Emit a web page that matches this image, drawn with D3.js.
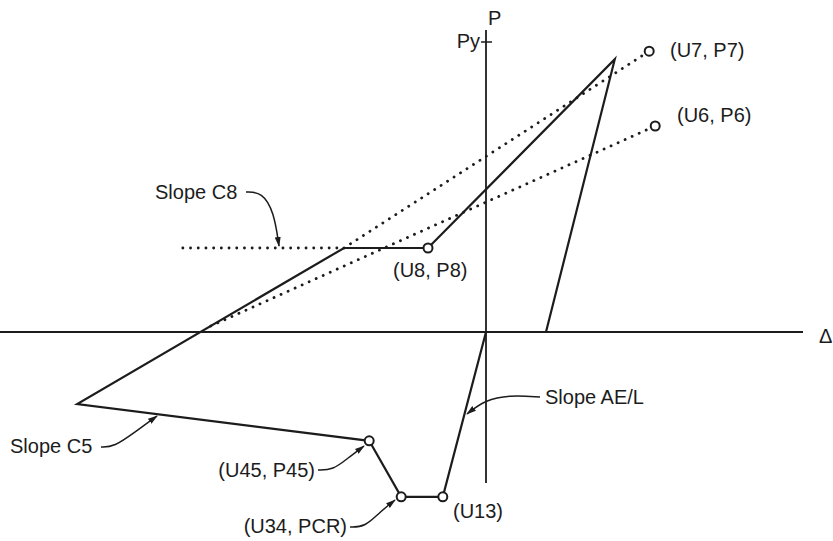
<!DOCTYPE html>
<html>
<head>
<meta charset="utf-8">
<script src="https://cdn.jsdelivr.net/npm/d3@7"></script>
<style>
  body { margin: 0; background: #fff; }
  svg text { font-family: "Liberation Sans", Arial, sans-serif; font-size: 20px; fill: #1c1c1c; }
</style>
</head>
<body>
<div id="main"></div>
<script>
const ctx = {
    WIDTH: 833,
    HEIGHT: 541,
    INK: "#1c1c1c",
};

// backbone path (displacement U, force P), in drawing units
const pathU = [0, -1.08, -2.12, -2.92, -10.22, -3.55, -1.45, 3.22, 1.50];
const pathP = [0, -4.12, -4.12, -2.72, -1.80, 2.10, 2.10, 6.82, 0];

// dotted reference lines
const slopeC8U = [-7.58, -3.55];
const slopeC8P = [2.10, 2.10];
const upperU = [-3.55, 4.08];
const upperP = [2.10, 7.02];
const lowerU = [-6.88, 4.23];
const lowerP = [0.15, 5.15];

// named control points (open circles)
const pointNames = ["U7", "U6", "U8", "U45", "PCR", "U13"];
const pointU = [4.08, 4.23, -1.45, -2.92, -2.12, -1.08];
const pointP = [7.02, 5.15, 2.10, -2.72, -4.12, -4.12];

// labels
const labelText = ["(U7, P7)", "(U6, P6)", "Slope C8", "(U8, P8)", "Slope AE/L", "Slope C5", "(U45, P45)", "(U34, PCR)", "(U13)"];
const labelU = [4.6, 4.775, -8.275, -2.325, 1.475, -11.9, -4.275, -3.475, -0.825];
const labelP = [6.875, 5.25, 3.325, 1.375, -1.8, -3.025, -3.625, -5.025, -4.65];
const labelAnchor = ["start", "start", "start", "start", "start", "start", "end", "end", "start"];

// leader lines with arrow heads
const leaders = [
    [[-6.0, 3.5], [-5.6, 3.5], [-5.3, 3.0], [-5.175, 2.15]],
    [[1.35, -1.625], [0.6, -1.575], [-0.025, -1.7], [-0.475, -2.05]],
    [[-9.625, -2.875], [-9.3, -2.875], [-8.775, -2.5], [-8.225, -2.1]],
    [[-4.2, -3.45], [-3.825, -3.45], [-3.45, -3.15], [-3.05, -2.85]],
    [[-3.4, -4.875], [-3.025, -4.875], [-2.65, -4.5], [-2.275, -4.2]],
];

// axes
const axisU = [-12.15, 7.925];
const axisP = [-3.775, 7.55];
const pyLevel = 7.25;

function createViz() {
    let svg = d3.select("#main").append("svg")
        .attr("width", ctx.WIDTH)
        .attr("height", ctx.HEIGHT);

    let x = d3.scaleLinear().domain([-12.15, 8.675]).range([0, ctx.WIDTH]);
    let y = d3.scaleLinear().domain([-5.225, 8.3]).range([ctx.HEIGHT, 0]);

    svg.append("defs").append("marker")
        .attr("id", "arrow")
        .attr("viewBox", "0 -4 10 8")
        .attr("refX", 9)
        .attr("refY", 0)
        .attr("markerUnits", "userSpaceOnUse")
        .attr("markerWidth", 10)
        .attr("markerHeight", 8)
        .attr("orient", "auto")
        .append("path")
        .attr("d", "M0,-3L10,0L0,3Z")
        .attr("fill", ctx.INK);

    // axes
    svg.append("line")
        .attr("x1", x(axisU[0])).attr("x2", x(axisU[1]))
        .attr("y1", y(0)).attr("y2", y(0))
        .style("stroke", ctx.INK).style("stroke-width", 1.8);
    svg.append("line")
        .attr("x1", x(0)).attr("x2", x(0))
        .attr("y1", y(axisP[0])).attr("y2", y(axisP[1]))
        .style("stroke", ctx.INK).style("stroke-width", 1.8);
    svg.append("line")
        .attr("x1", x(0) - 5).attr("x2", x(0) + 6)
        .attr("y1", y(pyLevel)).attr("y2", y(pyLevel))
        .style("stroke", ctx.INK).style("stroke-width", 1.5);

    svg.append("text").attr("x", x(0) + 2).attr("y", y(axisP[1]) - 5).text("P");
    svg.append("text").attr("x", x(0) - 6).attr("y", y(pyLevel) + 6)
        .attr("text-anchor", "end").text("Py");
    svg.append("text").attr("x", x(axisU[1]) + 16).attr("y", y(0) + 11).text("Δ");

    let line = d3.line().x(d => x(d[0])).y(d => y(d[1]));

    // dotted lines
    [[slopeC8U, slopeC8P], [upperU, upperP], [lowerU, lowerP]].forEach(([us, ps]) => {
        svg.append("path")
            .attr("d", line(d3.zip(us, ps)))
            .style("fill", "none")
            .style("stroke", ctx.INK)
            .style("stroke-width", 2.8)
            .style("stroke-linecap", "round")
            .style("stroke-dasharray", "0.1 7.6");
    });

    // solid backbone
    svg.append("path")
        .attr("d", line(d3.zip(pathU, pathP)))
        .style("fill", "none")
        .style("stroke", ctx.INK)
        .style("stroke-width", 2.2)
        .style("stroke-linejoin", "miter");

    // leaders
    let leaderLine = d3.line().x(d => x(d[0])).y(d => y(d[1])).curve(d3.curveBasis);
    svg.selectAll("path.leader")
        .data(leaders)
        .enter()
        .append("path")
        .attr("class", "leader")
        .attr("d", leaderLine)
        .style("fill", "none")
        .style("stroke", ctx.INK)
        .style("stroke-width", 1.5)
        .attr("marker-end", "url(#arrow)");

    // open circles
    svg.selectAll("circle.pt")
        .data(pointNames)
        .enter()
        .append("circle")
        .attr("class", "pt")
        .attr("cx", (d, i) => x(pointU[i]))
        .attr("cy", (d, i) => y(pointP[i]))
        .attr("r", 4.5)
        .style("fill", "#fff")
        .style("stroke", ctx.INK)
        .style("stroke-width", 2);

    // labels
    svg.selectAll("text.lbl")
        .data(labelText)
        .enter()
        .append("text")
        .attr("class", "lbl")
        .attr("x", (d, i) => x(labelU[i]))
        .attr("y", (d, i) => y(labelP[i]))
        .attr("text-anchor", (d, i) => labelAnchor[i])
        .text(d => d);
}

createViz();
</script>
</body>
</html>
